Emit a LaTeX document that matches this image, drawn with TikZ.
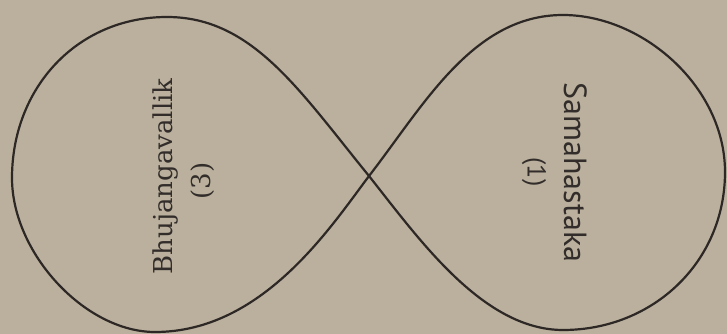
\documentclass[tikz,border=0pt]{standalone}
\usepackage{fontspec}
\newfontfamily\leftfont{DejaVu Serif}
\newfontfamily\rightfont{PT Sans}
\definecolor{paper}{RGB}{186,176,157}
\definecolor{ink}{RGB}{45,40,37}
\definecolor{textink}{RGB}{50,45,42}
\tikzset{
  loop/.style={draw=ink, line width=2.2pt, line join=round},
  lefttext/.style={inner sep=0pt, text=textink, font=\leftfont\fontsize{26}{30}\selectfont},
  righttext/.style={inner sep=0pt, text=textink, font=\rightfont\fontsize{32}{36}\selectfont},
}
\begin{document}
\begin{tikzpicture}[x=1pt,y=1pt]
\fill[paper] (0,0) rectangle (727,334);
\useasboundingbox (0,0) rectangle (727,334);
% key points
\coordinate (C) at (369,158);
\coordinate (T) at (167,317);
\coordinate (L) at (12,156);
\coordinate (B) at (155,2);
\coordinate (RT) at (563,319);
\coordinate (R) at (725,162);
\coordinate (RB) at (563,4);
% left lobe
\draw[loop] (C) .. controls (299,244) and (252,317) .. (T)
  .. controls (77,317) and (12,246) .. (L)
  .. controls (12,81) and (85,2) .. (B)
  .. controls (262,2) and (330,106) .. (C);
% right lobe
\draw[loop] (C) .. controls (424,229) and (473,319) .. (RT)
  .. controls (643,319) and (725,247) .. (R)
  .. controls (725,72) and (653,4) .. (RB)
  .. controls (483,4) and (419,95) .. (C);
% labels
\node[lefttext, rotate=90, anchor=base] (bhu) at (172,157.5) {Bhujangavallik};
\node[lefttext, rotate=90] (three) at (203,153) {(3)};
\node[righttext, rotate=-90, anchor=base] (sam) at (564,161.5) {Samahastaka};
\node[righttext, rotate=-90, font=\rightfont\fontsize{26}{30}\selectfont] (one) at (534,162) {(1)};
\end{tikzpicture}
\end{document}
